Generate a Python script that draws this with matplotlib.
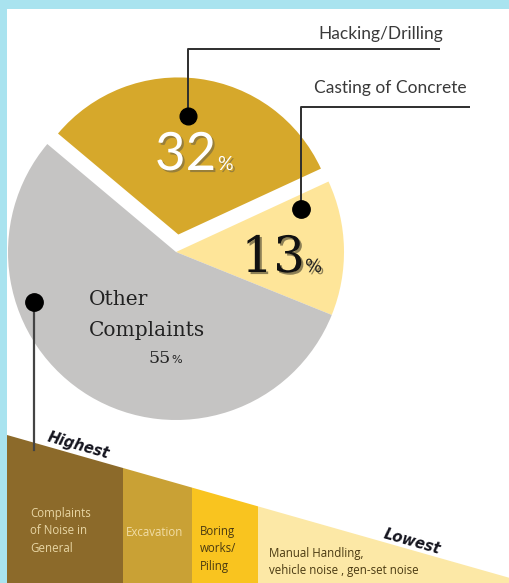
import matplotlib
matplotlib.use("Agg")
import matplotlib.pyplot as plt
import matplotlib.patheffects as pe
from matplotlib.patches import Rectangle, Polygon

# ---------------- data ----------------
pie_labels = ["Hacking/Drilling", "Casting of Concrete", "Other Complaints"]
pie_shares = [32, 13, 55]
pie_colors = ["#D6A82B", "#FEE599", "#C5C4C3"]

rank_labels = ["Complaints\nof Noise in\nGeneral", "Excavation", "Boring\nworks/\nPiling",
               "Manual Handling,\nvehicle noise , gen-set noise"]
rank_colors = ["#8C6A2A", "#C9A135", "#F9C41F", "#FCE8A6"]
rank_text_colors = ["#E8D6A4", "#F1DDA6", "#4A3A12", "#4A3A12"]

# ---------------- layout (pixel units, y measured from top) ----------------
W, H = 510, 583
def Y(y):
    return H - y

fig = plt.figure(figsize=(W / 100, H / 100), dpi=100, facecolor="#A9E3EF")
ax = fig.add_axes([0, 0, 1, 1])
ax.set_facecolor("none")

# white panel
ax.add_patch(Rectangle((7, 0), W - 7, Y(9), facecolor="white", edgecolor="none", zorder=0))

# ---------------- pie ----------------
R = 168
cx, cy = 176, Y(252)
wedges, _ = ax.pie(pie_shares, colors=pie_colors, startangle=140, counterclock=False,
                   radius=R, center=(cx, cy), explode=[0.105 * R, 0, 0],
                   wedgeprops=dict(linewidth=0))
wedges[0].set_radius(R * 0.935)
for w in wedges:
    w.set_zorder(2)

ax.set_xlim(0, W)
ax.set_ylim(0, H)
ax.set_aspect("auto")
ax.axis("off")

shadow = [pe.SimplePatchShadow(offset=(1.5, -1.5), alpha=0.45), pe.Normal()]

# 32%
ax.text(155, Y(170), str(pie_shares[0]), fontsize=38, family="Lato", color="white",
        ha="left", va="baseline", zorder=5, path_effects=shadow)
ax.text(218, Y(170), "%", fontsize=14, family="Lato", color="white",
        ha="left", va="baseline", zorder=5, path_effects=shadow)
# 13%
ax.text(305, Y(272), str(pie_shares[1]), fontsize=36, family="DejaVu Serif", color="#111111",
        ha="right", va="baseline", zorder=5, path_effects=shadow)
ax.text(305, Y(272), "%", fontsize=13, family="DejaVu Sans", color="#222222",
        ha="left", va="baseline", zorder=5, path_effects=shadow)
# Other Complaints 55%
ax.text(89, Y(305), "Other", fontsize=14.5, family="DejaVu Serif", color="#222222",
        ha="left", va="baseline", zorder=5)
ax.text(89, Y(336), "Complaints", fontsize=14.5, family="DejaVu Serif", color="#222222",
        ha="left", va="baseline", zorder=5)
ax.text(171, Y(363), str(pie_shares[2]), fontsize=12.5, family="DejaVu Serif", color="#222222",
        ha="right", va="baseline", zorder=5)
ax.text(171, Y(363), "%", fontsize=8, family="DejaVu Sans", color="#222222",
        ha="left", va="baseline", zorder=5)

# leader lines and dots
lc = "#2E2E2E"
ax.plot([188, 188, 440], [Y(116), Y(49), Y(49)], color=lc, lw=1.4, zorder=4,
        solid_capstyle="butt")
ax.plot([188], [Y(116)], "o", color="black", ms=12, zorder=6)
ax.text(443, Y(34), pie_labels[0], fontsize=12.5, family="Lato", color="#3A3A3A",
        ha="right", va="center", zorder=5)

ax.plot([301, 301, 470], [Y(209), Y(107), Y(107)], color=lc, lw=1.4, zorder=4,
        solid_capstyle="butt")
ax.plot([301], [Y(209)], "o", color="black", ms=12.5, zorder=6)
ax.text(467, Y(88), pie_labels[1], fontsize=12.5, family="Lato", color="#3A3A3A",
        ha="right", va="center", zorder=5)

ax.plot([34, 34], [Y(302), Y(450)], color="#444444", lw=1.6, zorder=4)
ax.plot([34], [Y(302)], "o", color="black", ms=12.5, zorder=6)

# ---------------- ranking wedge bar ----------------
edges = [7, 123, 192, 258, W]
y_left, y_right = 435, 578
bars = ax.bar(edges[:-1], [Y(y_left)] * 4, width=[edges[i + 1] - edges[i] for i in range(4)],
              bottom=0, align="edge", color=rank_colors, linewidth=0, zorder=3)
clip = Polygon([(7, Y(y_left)), (W, Y(y_right)), (W, 0), (7, 0)], closed=True,
               transform=ax.transData, facecolor="none", edgecolor="none")
ax.add_patch(clip)
for b in bars:
    b.set_clip_path(clip)

bar_font = dict(family="Open Sans", fontsize=8.3, zorder=6)
ax.text(30, Y(531), rank_labels[0], color=rank_text_colors[0], ha="left", va="center",
        linespacing=1.45, **bar_font)
ax.text(126, Y(532), rank_labels[1], color=rank_text_colors[1], ha="left", va="center",
        **bar_font)
ax.text(200, Y(549), rank_labels[2], color=rank_text_colors[2], ha="left", va="center",
        linespacing=1.45, **bar_font)
ax.text(269, Y(562), rank_labels[3], color=rank_text_colors[3], ha="left", va="center",
        linespacing=1.45, **bar_font)

ax.text(78, Y(446), "Highest", rotation=-16, fontsize=10.5, fontweight="bold", style="italic",
        family="DejaVu Sans", color="#15151F", ha="center", va="center",
        rotation_mode="anchor", zorder=6)
ax.text(412, Y(542), "Lowest", rotation=-16, fontsize=10.5, fontweight="bold", style="italic",
        family="DejaVu Sans", color="#15151F", ha="center", va="center",
        rotation_mode="anchor", zorder=6)

fig.savefig("out.png", dpi=100, facecolor=fig.get_facecolor())
